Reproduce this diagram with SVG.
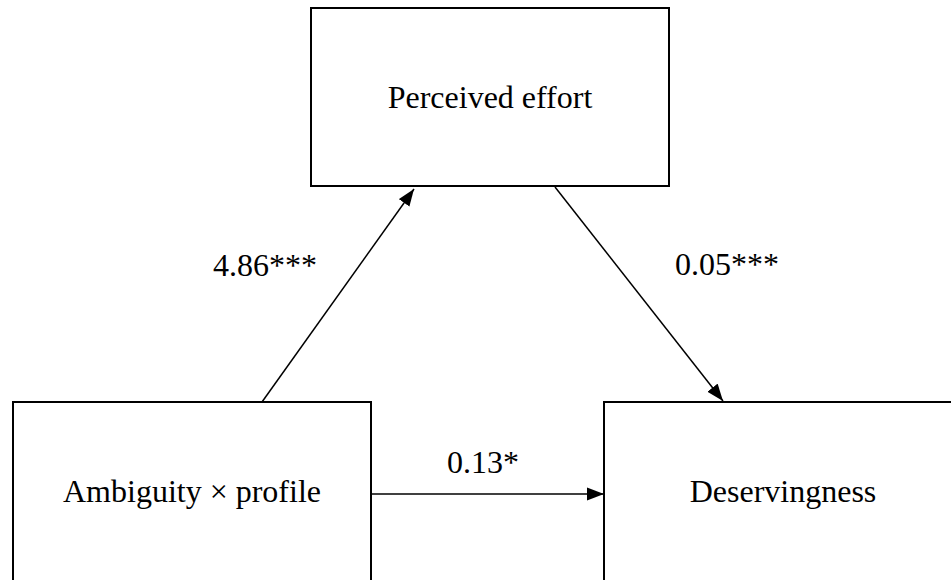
<svg xmlns="http://www.w3.org/2000/svg" width="951" height="580" viewBox="0 0 951 580">
  <style>
    .box { fill: #ffffff; stroke: #000000; stroke-width: 2; }
    .lbl { font-family: "Times New Roman", "Liberation Serif", "DejaVu Serif", serif; font-size: 32px; fill: #000000; text-anchor: middle; }
    .edge { stroke: #000000; stroke-width: 1.5; fill: none; marker-end: url(#arrow); }
  </style>
  <defs>
    <marker id="arrow" markerUnits="userSpaceOnUse" markerWidth="18" markerHeight="14" refX="17" refY="7" orient="auto">
      <path d="M0,0.5 L17,7 L0,13.5 z" fill="#000000"/>
    </marker>
  </defs>
  <rect width="951" height="580" fill="#ffffff"/>
  <g id="node-effort">
    <rect class="box" x="311" y="8" width="358" height="178"/>
    <text class="lbl" x="490" y="108">Perceived effort</text>
  </g>
  <g id="node-ambiguity">
    <rect class="box" x="13" y="402" width="358" height="200"/>
    <text class="lbl" x="192" y="502">Ambiguity × profile</text>
  </g>
  <g id="node-deservingness">
    <rect class="box" x="604" y="402" width="358" height="200"/>
    <text class="lbl" x="783" y="502">Deservingness</text>
  </g>
  <g id="connectors">
    <line class="edge" x1="262" y1="402" x2="414" y2="189"/>
    <line class="edge" x1="555" y1="187" x2="723" y2="401"/>
    <line class="edge" x1="372" y1="494" x2="604" y2="494"/>
    <text class="lbl" x="265" y="276">4.86***</text>
    <text class="lbl" x="727" y="275">0.05***</text>
    <text class="lbl" x="483" y="473">0.13*</text>
  </g>
</svg>
